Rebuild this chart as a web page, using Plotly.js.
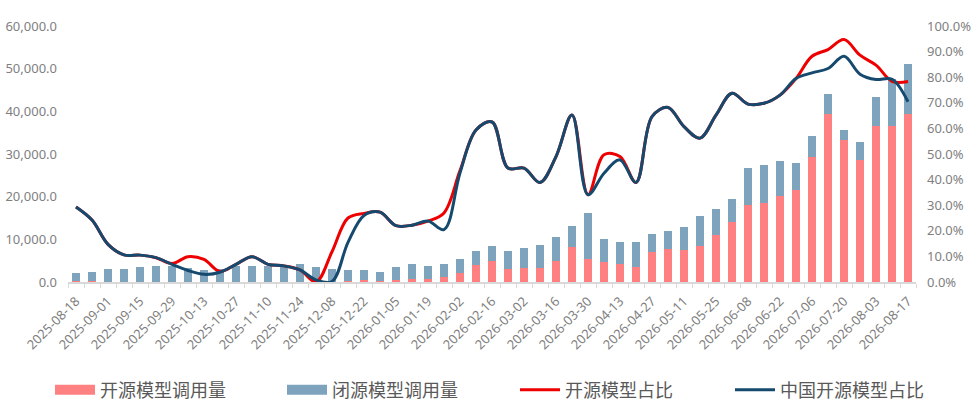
<!DOCTYPE html>
<html>
<head>
<meta charset="utf-8">
<script src="https://cdn.plot.ly/plotly-3.0.1.min.js"></script>
<style>
  html, body { margin: 0; padding: 0; background: #fff; }
  #chart { width: 974px; height: 413px; }
</style>
</head>
<body>
<div id="chart"></div>
<script>
// weekly categories
var weeks = [
    "2025-08-18", "2025-08-25", "2025-09-01", "2025-09-08", "2025-09-15", "2025-09-22",
    "2025-09-29", "2025-10-06", "2025-10-13", "2025-10-20", "2025-10-27", "2025-11-03",
    "2025-11-10", "2025-11-17", "2025-11-24", "2025-12-01", "2025-12-08", "2025-12-15",
    "2025-12-22", "2025-12-29", "2026-01-05", "2026-01-12", "2026-01-19", "2026-01-26",
    "2026-02-02", "2026-02-09", "2026-02-16", "2026-02-23", "2026-03-02", "2026-03-09",
    "2026-03-16", "2026-03-23", "2026-03-30", "2026-04-06", "2026-04-13", "2026-04-20",
    "2026-04-27", "2026-05-04", "2026-05-11", "2026-05-18", "2026-05-25", "2026-06-01",
    "2026-06-08", "2026-06-15", "2026-06-22", "2026-06-29", "2026-07-06", "2026-07-13",
    "2026-07-20", "2026-07-27", "2026-08-03", "2026-08-10", "2026-08-17"
];

// 开源模型调用量
var openVol = [
    300, 300, 100, 100, 100, 100, 100, 100, 100, 100, 100, 100,
    100, 100, 100, 50, 50, 350, 400, 350, 450, 650, 750, 1100,
    2100, 3950, 4850, 2950, 3250, 3250, 4850, 8100, 5350, 4650, 4200, 3450,
    6950, 7650, 7400, 8350, 10900, 13950, 18150, 18600, 20250, 21650, 29350, 39350,
    33300, 28650, 36550, 36550, 39350
];

// 闭源模型调用量
var closedVol = [
    1700, 2150, 3050, 3050, 3300, 3750, 3600, 3100, 2800, 2950, 3600, 3750,
    3600, 3350, 4200, 3350, 2900, 2350, 2500, 2100, 2950, 3650, 3100, 3200,
    3400, 3400, 3650, 4400, 4800, 5500, 5750, 5050, 10850, 5500, 5250, 6000,
    4350, 4350, 5550, 7150, 6250, 5500, 8550, 8800, 8050, 6200, 4800, 4600,
    2250, 4100, 6900, 11050, 11800
];

// 开源模型占比 (%)
var openShare = [
    29.3, 24.2, 14.7, 10.6, 10.5, 9.5, 7.2, 9.9, 8.8, 4.1, 6.9, 9.9,
    6.9, 6.3, 4.7, 0.0, 11.8, 25.0, 26.8, 27.3, 22.0, 22.2, 23.8, 27.0,
    43.5, 59.4, 62.5, 44.5, 44.5, 38.9, 49.0, 65.2, 34.1, 49.7, 49.0, 38.9,
    64.6, 68.2, 60.7, 56.2, 65.2, 73.7, 69.5, 69.8, 73.0, 79.5, 88.2, 90.8,
    94.7, 88.6, 84.7, 78.4, 78.3
];

// 中国开源模型占比 (%)
var cnOpenShare = [
    29.3, 24.2, 14.7, 10.6, 10.5, 9.5, 6.9, 4.5, 3.0, 3.8, 6.9, 9.9,
    6.9, 6.3, 4.7, 0.8, 0.2, 15.5, 26.0, 27.3, 22.0, 22.2, 23.8, 20.5,
    42.6, 59.4, 62.5, 44.5, 44.5, 38.9, 49.0, 65.2, 34.1, 42.5, 47.7, 38.9,
    64.6, 68.2, 60.7, 56.2, 65.2, 73.7, 69.5, 69.8, 73.0, 79.5, 81.7, 83.4,
    88.2, 81.2, 79.1, 79.2, 70.4
];

var font = "Noto Sans, Noto Sans CJK SC, sans-serif";
var cjk = "Noto Sans CJK SC, sans-serif";
var grey = "#7f7f7f";
var pink = "#FF8080", steel = "#7DA3BD";

// only every other week gets a label
var tickText = weeks.map(function (w, i) { return i % 2 === 0 ? w : ""; });

var traces = [
    {
        type: "bar", name: "开源模型调用量", x: weeks, y: openVol,
        marker: { color: pink }, showlegend: false
    },
    {
        type: "bar", name: "闭源模型调用量", x: weeks, y: closedVol,
        marker: { color: steel }, showlegend: false
    },
    {
        type: "scatter", mode: "lines", name: "开源模型占比", x: weeks,
        y: openShare.map(function (v) { return v / 100; }), yaxis: "y2",
        line: { color: "#EE0000", width: 3, shape: "spline", smoothing: 1 },
        legend: "legend3"
    },
    {
        type: "scatter", mode: "lines", name: "中国开源模型占比", x: weeks,
        y: cnOpenShare.map(function (v) { return v / 100; }), yaxis: "y2",
        line: { color: "#154A6E", width: 3, shape: "spline", smoothing: 1 },
        legend: "legend4"
    },
    // wide legend swatches for the two bar series (no data)
    {
        type: "scatter", mode: "lines", name: "开源模型调用量", x: [null], y: [null],
        line: { color: pink, width: 12 }, legend: "legend", hoverinfo: "skip"
    },
    {
        type: "scatter", mode: "lines", name: "闭源模型调用量", x: [null], y: [null],
        line: { color: steel, width: 12 }, legend: "legend2", hoverinfo: "skip"
    }
];

function legendAt(px) {
    return {
        xref: "container", yref: "container", x: px / 974, y: 23 / 413,
        xanchor: "left", yanchor: "middle", orientation: "h",
        itemwidth: 40, bgcolor: "rgba(0,0,0,0)",
        font: { family: cjk, size: 18, color: "#595959" }
    };
}

var layout = {
    width: 974,
    height: 413,
    margin: { l: 68, r: 58, t: 26, b: 131 },
    paper_bgcolor: "#fff",
    plot_bgcolor: "#fff",
    barmode: "stack",
    bargap: 0.5,
    showlegend: true,
    font: { family: font, color: grey },
    xaxis: {
        type: "category",
        tickmode: "array",
        tickvals: weeks,
        ticktext: tickText,
        tickangle: -45,
        tickfont: { size: 13, color: grey },
        ticklabelstandoff: 5,
        showline: true,
        linecolor: "#d9d9d9",
        linewidth: 1.5,
        ticks: "outside",
        ticklen: 4,
        tickcolor: "#d9d9d9",
        tickson: "boundaries",
        showgrid: false,
        range: [-0.5, 52.5]
    },
    yaxis: {
        range: [0, 60000],
        dtick: 10000,
        tickformat: ",.1f",
        showgrid: false,
        zeroline: false,
        tickfont: { size: 13, color: grey },
        ticklabelstandoff: 10
    },
    yaxis2: {
        overlaying: "y",
        side: "right",
        range: [0, 1],
        dtick: 0.1,
        tickformat: ".1%",
        showgrid: false,
        zeroline: false,
        tickfont: { size: 13, color: grey },
        ticklabelstandoff: 10
    },
    legend: legendAt(50),
    legend2: legendAt(282),
    legend3: legendAt(515),
    legend4: legendAt(730)
};

Plotly.newPlot("chart", traces, layout, { displayModeBar: false, staticPlot: true });
</script>
</body>
</html>
